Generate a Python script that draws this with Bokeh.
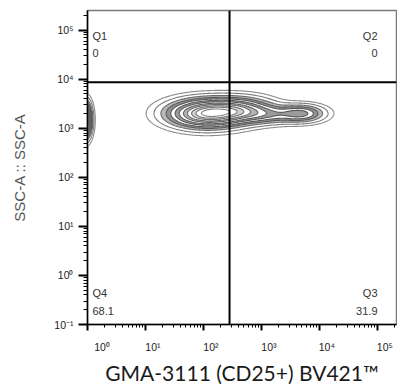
import numpy as np
from bokeh.plotting import figure
from bokeh.models import FixedTicker, Span, Label, LinearAxis, CustomLabelingPolicy
from bokeh.embed import file_html
from bokeh.resources import INLINE

# ---- data (log10 units of the displayed axes) ----
x_decades = [0, 1, 2, 3, 4, 5]
x_tick_labels = ["10\u2070", "10\u00b9", "10\u00b2", "10\u00b3", "10\u2074", "10\u2075"]
y_decades = [-1, 0, 1, 2, 3, 4, 5]
y_tick_labels = ["10\u207b\u00b9", "10\u2070", "10\u00b9", "10\u00b2", "10\u00b3", "10\u2074", "10\u2075"]

x_label = "GMA-3111 (CD25+) BV421\u2122"
y_label = "SSC-A :: SSC-A"

quad_x = 2.45   # vertical gate, log10
quad_y = 3.94   # horizontal gate, log10
quad_names = ["Q1", "Q2", "Q3", "Q4"]
quad_values = ["0", "0", "31.9", "68.1"]

# population clusters (log10 centre, spread, relative height)
pop_cx = [-0.03, 2.05, 2.60, 3.10, 3.68]
pop_cy = [3.17, 3.30, 3.37, 3.28, 3.30]
pop_sx = [0.06, 0.38, 0.35, 0.30, 0.24]
pop_sy = [0.20, 0.165, 0.15, 0.11, 0.105]
pop_w = [1.00, 1.00, 0.55, 0.25, 0.40]
contour_fracs = [0.02, 0.05, 0.10, 0.16, 0.23, 0.31, 0.40, 0.50, 0.60, 0.70, 0.80, 0.90]

X_RANGE = (0.0, 5.33)
Y_RANGE = (-1.0, 5.4)
PX_PER_DEC_X = 58.0

# ---- density grid ----
gx = np.linspace(-0.4, X_RANGE[1], 420)
gy = np.linspace(Y_RANGE[0], Y_RANGE[1], 420)
XX, YY = np.meshgrid(gx, gy)
Z = np.zeros_like(XX)
for cx, cy, sx, sy, w in zip(pop_cx, pop_cy, pop_sx, pop_sy, pop_w):
    Z += w * np.exp(-0.5 * ((XX - cx) / sx) ** 2 - 0.5 * ((YY - cy) / sy) ** 2)
levels = [f * Z.max() for f in contour_fracs]

p = figure(width=397, height=387, x_range=X_RANGE, y_range=Y_RANGE,
           output_backend="svg", toolbar_location=None,
           min_border_left=87, min_border_right=1, min_border_top=10, min_border_bottom=61)
p.background_fill_color = "white"
p.border_fill_color = "white"
p.outline_line_color = "#7a7a7a"
p.outline_line_width = 1.5
p.xgrid.visible = False
p.ygrid.visible = False

band_fill = ["white", "white", "#b8b8b8", "#929292", "white", "#9c9c9c", "white",
             "#b4b4b4", "white", "#d0d0d0", "white"]
level_lines = ["#8a8a8a", "#7a7a7a", "#6a6a6a", "#5a5a5a", "#555555", "#555555",
               "#5a5a5a", "#606060", "#666666", "#6e6e6e", "#777777", "#808080"]
p.contour(XX, YY, Z, levels, fill_color=band_fill, fill_alpha=1.0,
          line_color=level_lines, line_width=1.1)

p.add_layout(Span(location=quad_x, dimension="height", line_color="black", line_width=2))
p.add_layout(Span(location=quad_y, dimension="width", line_color="black", line_width=2))

all_minor = [d + np.log10(k) for d in range(-1, 6) for k in range(2, 10)]
xm = [v for v in all_minor if X_RANGE[0] < v < X_RANGE[1]]
ym = [v for v in all_minor if Y_RANGE[0] < v < Y_RANGE[1]]

TF = "Liberation Sans"

def style_ticks(ax, tout, mout):
    ax.axis_line_color = "black"
    ax.axis_line_width = 1.5
    ax.major_tick_in = 0
    ax.major_tick_out = tout
    ax.major_tick_line_width = 2
    ax.major_tick_line_color = "black"
    ax.minor_tick_in = 0
    ax.minor_tick_out = mout
    ax.minor_tick_line_width = 1
    ax.minor_tick_line_color = "black"

# x: tick axis next to the frame (labels suppressed) ...
xa = p.xaxis[0]
xa.ticker = FixedTicker(ticks=x_decades, minor_ticks=xm)
style_ticks(xa, 6, 3)
xa.major_label_standoff = 0
xa.major_label_text_font_size = "1px"
xa.major_label_policy = CustomLabelingPolicy(code="for (const i of indices) { indices.unset(i) } return indices")

# ... and a label axis below it, labels sitting just right of each decade tick
shift = [14.5 / PX_PER_DEC_X if d == X_RANGE[0] else 7.5 / PX_PER_DEC_X for d in x_decades]
label_pos = [round(d + s, 3) for d, s in zip(x_decades, shift)]
xb = LinearAxis(ticker=FixedTicker(ticks=label_pos, minor_ticks=[]))
xb.axis_line_color = None
xb.major_tick_out = 0
xb.major_tick_in = 0
xb.minor_tick_out = 0
xb.minor_tick_in = 0
xb.major_label_overrides = {pos: lab for pos, lab in zip(label_pos, x_tick_labels)}
xb.major_label_standoff = 6
xb.major_label_text_font = TF
xb.major_label_text_font_size = "10.5px"
xb.major_label_text_color = "#222222"
xb.axis_label = x_label
xb.axis_label_text_font = "Lato"
xb.axis_label_text_font_style = "normal"
xb.axis_label_text_font_size = "21px"
xb.axis_label_text_color = "#1a1a1a"
xb.axis_label_standoff = 4
p.add_layout(xb, "below")

ya = p.yaxis[0]
ya.ticker = FixedTicker(ticks=y_decades, minor_ticks=ym)
style_ticks(ya, 9, 4)
ya.major_label_overrides = {d: lab for d, lab in zip(y_decades, y_tick_labels)}
ya.major_label_standoff = 5
ya.major_label_text_font = TF
ya.major_label_text_font_size = "10.5px"
ya.major_label_text_color = "#222222"
ya.axis_label = y_label
ya.axis_label_text_font = TF
ya.axis_label_text_font_style = "normal"
ya.axis_label_text_font_size = "15px"
ya.axis_label_text_color = "#555555"
ya.axis_label_standoff = 23

# quadrant labels
qpos = {"Q1": (X_RANGE[0], Y_RANGE[1], 5, "left", -25, -42),
        "Q2": (X_RANGE[1], Y_RANGE[1], -19, "right", -25, -42),
        "Q3": (X_RANGE[1], Y_RANGE[0], -19, "right", 32, 14),
        "Q4": (X_RANGE[0], Y_RANGE[0], 5, "left", 32, 14)}
for name, val in zip(quad_names, quad_values):
    qx, qy, xo, al, yo1, yo2 = qpos[name]
    p.add_layout(Label(x=qx, y=qy, x_offset=xo, y_offset=yo1, text=name, text_font=TF,
                       text_font_size="11px", text_color="#333333", text_align=al,
                       text_baseline="alphabetic"))
    p.add_layout(Label(x=qx, y=qy, x_offset=xo, y_offset=yo2, text=val, text_font=TF,
                       text_font_size="11px", text_color="#333333", text_align=al,
                       text_baseline="alphabetic"))

open("out.html", "w").write(file_html(p, INLINE))
